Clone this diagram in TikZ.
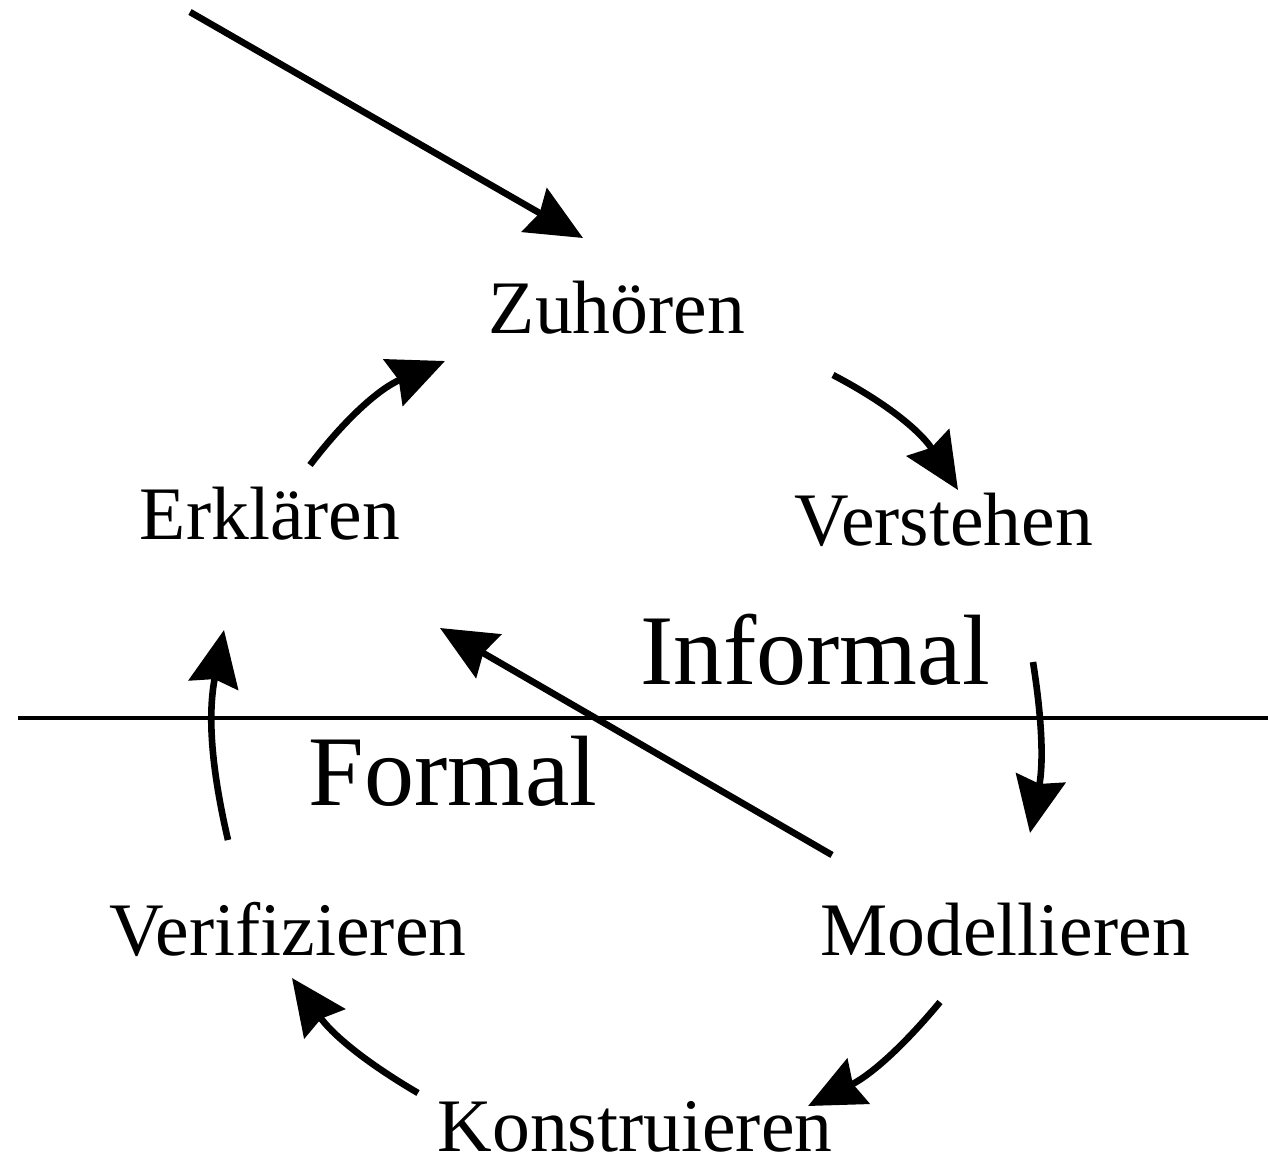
\documentclass[tikz,border=0pt]{standalone}
\usepackage{fontspec}
\setmainfont{Liberation Serif}
\usetikzlibrary{arrows.meta}
\begin{document}
\begin{tikzpicture}[x=0.5pt,y=-0.5pt,
  lbl/.style={anchor=base,inner sep=0pt,font=\fontsize{37.8}{40}\selectfont},
  big/.style={anchor=base,inner sep=0pt,font=\fontsize{50}{54}\selectfont},
  flow/.style={line width=3.3pt,-{Stealth[length=28pt,width=25pt,inset=3pt]}}]
\useasboundingbox (0,0) rectangle (1268,1168);
% labels
\node[lbl] (zu) at (617,333) {Zuhören};
\node[lbl] (er) at (270,539) {Erklären};
\node[lbl] (ve) at (944,545) {Verstehen};
\node[big] (inf) at (815,684) {Informal};
\node[big] (for) at (453,805) {Formal};
\node[lbl] (vf) at (288,955) {Verifizieren};
\node[lbl] (mo) at (1005,955) {Modellieren};
\node[lbl] (ko) at (635,1151) {Konstruieren};
% separator
\coordinate (hl) at (18,718);
\coordinate (hr) at (1268,718);
\draw[line width=2pt] (hl) -- (hr);
% arrow endpoints
\coordinate (s0) at (190,12);   \coordinate (e0) at (583,238);
\coordinate (s1) at (310,465);  \coordinate (e1) at (445,361);
\coordinate (s2) at (833,375);  \coordinate (e2) at (958,490);
\coordinate (s3) at (1033,662); \coordinate (e3) at (1030,833);
\coordinate (s4) at (832,855);  \coordinate (e4) at (440,628);
\coordinate (s5) at (940,1002); \coordinate (e5) at (808,1106);
\coordinate (s6) at (418,1093); \coordinate (e6) at (292,978);
\coordinate (s7) at (228,840);  \coordinate (e7) at (224,630);
% arrows
\draw[flow] (s0) -- (e0);
\draw[flow] (s1) to[bend left=15] (e1);
\draw[flow] (s2) to[bend left=15] (e2);
\draw[flow] (s3) to[bend left=10] (e3);
\draw[flow] (s4) -- (e4);
\draw[flow] (s5) to[bend left=12] (e5);
\draw[flow] (s6) to[bend left=12] (e6);
\draw[flow] (s7) to[bend left=12] (e7);
\end{tikzpicture}
\end{document}
